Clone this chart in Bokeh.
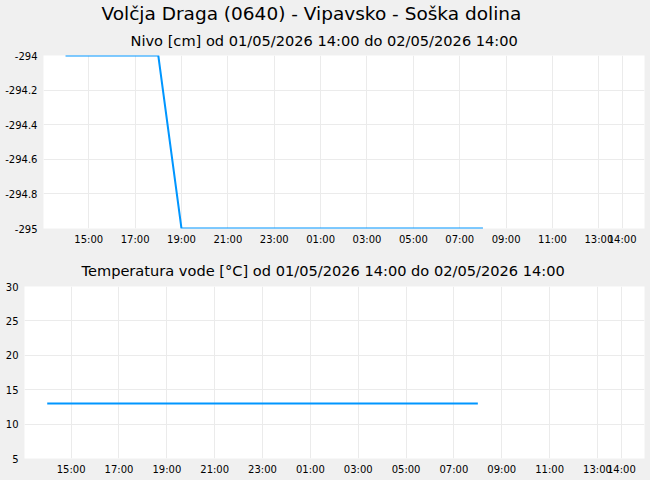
import pandas as pd
from bokeh.plotting import figure
from bokeh.models import (Title, FixedTicker, DatetimeTickFormatter, Range1d,
                          NumeralTickFormatter)
from bokeh.layouts import column
from bokeh.embed import file_html
from bokeh.resources import INLINE

main_title = "Volčja Draga (0640) - Vipavsko - Soška dolina"
level_title = "Nivo [cm] od 01/05/2026 14:00 do 02/05/2026 14:00"
temp_title = "Temperatura vode [°C] od 01/05/2026 14:00 do 02/05/2026 14:00"

times = ["2026-05-01 14:00", "2026-05-01 15:00", "2026-05-01 16:00",
         "2026-05-01 17:00", "2026-05-01 18:00", "2026-05-01 19:00",
         "2026-05-01 20:00", "2026-05-01 21:00", "2026-05-01 22:00",
         "2026-05-01 23:00", "2026-05-02 00:00", "2026-05-02 01:00",
         "2026-05-02 02:00", "2026-05-02 03:00", "2026-05-02 04:00",
         "2026-05-02 05:00", "2026-05-02 06:00", "2026-05-02 07:00",
         "2026-05-02 08:00"]
level_cm = [-294, -294, -294, -294, -294, -295, -295, -295, -295, -295,
            -295, -295, -295, -295, -295, -295, -295, -295, -295]
temp_c = [13, 13, 13, 13, 13, 13, 13, 13, 13, 13,
          13, 13, 13, 13, 13, 13, 13, 13, 13]

x_tick_times = ["2026-05-01 15:00", "2026-05-01 17:00", "2026-05-01 19:00",
                "2026-05-01 21:00", "2026-05-01 23:00", "2026-05-02 01:00",
                "2026-05-02 03:00", "2026-05-02 05:00", "2026-05-02 07:00",
                "2026-05-02 09:00", "2026-05-02 11:00", "2026-05-02 13:00",
                "2026-05-02 14:00"]
x_start, x_end = "2026-05-01 13:03", "2026-05-02 14:58"
level_ticks = [-295, -294.8, -294.6, -294.4, -294.2, -294]
temp_ticks = [5, 10, 15, 20, 25, 30]

FONT = "DejaVu Sans"
LINE = "#0096ff"
BG = "#f0f0f0"
GRID = "#ebebeb"


def ms(s):
    return pd.Timestamp(s).value / 1e6


xs = [pd.Timestamp(t) for t in times]
xticks = [ms(t) for t in x_tick_times]


def make(height, top, bottom, left, ylo, yhi, yticks, ys):
    p = figure(width=650, height=height, x_axis_type="datetime",
               output_backend="svg", toolbar_location=None,
               x_range=Range1d(ms(x_start), ms(x_end)),
               y_range=Range1d(ylo, yhi),
               min_border_top=top, min_border_bottom=bottom,
               min_border_left=left, min_border_right=6)
    p.frame_align = False
    p.border_fill_color = BG
    p.background_fill_color = "white"
    p.outline_line_color = None
    p.line(xs, ys, line_color=LINE, line_width=2)
    p.xaxis.ticker = FixedTicker(ticks=xticks)
    p.xaxis.formatter = DatetimeTickFormatter(hours="%H:%M", days="%H:%M",
                                              minutes="%H:%M", hourmin="%H:%M")
    p.yaxis.ticker = FixedTicker(ticks=yticks)
    p.yaxis.formatter = NumeralTickFormatter(format="0.[0]")
    for ax in (p.xaxis[0], p.yaxis[0]):
        ax.axis_line_color = None
        ax.major_tick_line_color = None
        ax.minor_tick_line_color = None
        ax.major_tick_out = 0
        ax.major_tick_in = 0
        ax.minor_tick_out = 0
        ax.minor_tick_in = 0
        ax.major_label_text_font = FONT
        ax.major_label_text_font_size = "10px"
        ax.major_label_text_color = "black"
    p.xaxis.major_label_standoff = 5
    p.yaxis.major_label_standoff = 6
    p.xgrid.grid_line_color = GRID
    p.ygrid.grid_line_color = GRID
    return p


p1 = make(251, 55, 23, 43, -295, -294, level_ticks, level_cm)
p1.add_layout(Title(text=level_title, align="left", offset=87,
                    text_font=FONT, text_font_size="14.6px",
                    text_font_style="normal", text_color="black",
                    standoff=13), "above")
p1.add_layout(Title(text=main_title, align="left", offset=58,
                    text_font=FONT, text_font_size="18.5px",
                    text_font_style="normal", text_color="black",
                    standoff=-1), "above")

p2 = make(229, 35, 22, 24, 5, 30, temp_ticks, temp_c)
p2.add_layout(Title(text=temp_title, align="left", offset=57,
                    text_font=FONT, text_font_size="14.6px",
                    text_font_style="normal", text_color="black",
                    standoff=15), "above")

layout = column(p1, p2, spacing=0)
layout.styles = {"background-color": BG}
open("out.html", "w").write(file_html(layout, INLINE))
